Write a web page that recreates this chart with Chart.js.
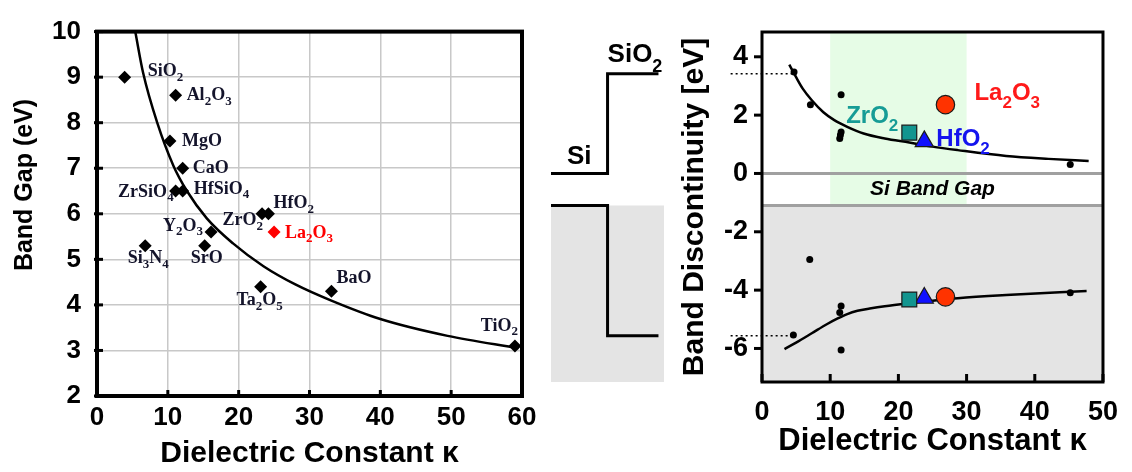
<!DOCTYPE html>
<html>
<head>
<meta charset="utf-8">
<script src="https://cdn.jsdelivr.net/npm/chart.js@4.4.1/dist/chart.umd.min.js"></script>
<style>
  html, body { margin: 0; padding: 0; background: #fff; }
  #wrap { position: relative; width: 1132px; height: 472px; overflow: hidden; }
  canvas { position: absolute; }
  #left { left: 0; top: 0; }
  #middle { left: 551px; top: 32px; }
  #right { left: 676px; top: 0; }
</style>
</head>
<body>
<div id="wrap">
  <canvas id="left" width="545" height="472"></canvas>
  <canvas id="middle" width="125" height="350"></canvas>
  <canvas id="right" width="456" height="472"></canvas>
</div>
<script>
const SANS = "'Liberation Sans', Arial, Helvetica, sans-serif";
const SERIF = "'Liberation Serif', 'Times New Roman', serif";

// left panel: band gap vs dielectric constant
const materials = ['SiO2', 'Al2O3', 'MgO', 'CaO', 'ZrSiO4', 'HfSiO4', 'ZrO2', 'HfO2', 'La2O3', 'Y2O3', 'Si3N4', 'SrO', 'Ta2O5', 'BaO', 'TiO2'];
const kappa = [3.9, 11.1, 10.3, 12.1, 11.1, 12.1, 23.3, 24.2, 25.0, 16.1, 6.8, 15.2, 23.1, 33.1, 59.0];
const bandGap = [9.0, 8.6, 7.6, 7.0, 6.5, 6.5, 6.0, 6.0, 5.6, 5.6, 5.3, 5.3, 4.4, 4.3, 3.1];
const fitKappa = [5.4, 6.5, 8.5, 10.8, 12.7, 15.5, 19.2, 23.5, 28, 33, 40, 49.5, 59.5];
const fitGap = [10, 9.1, 8.0, 7.05, 6.5, 5.9, 5.35, 4.85, 4.45, 4.1, 3.69, 3.32, 3.05];
const leftTicksX = [0, 10, 20, 30, 40, 50, 60];
const leftTicksY = [2, 3, 4, 5, 6, 7, 8, 9, 10];

// right panel: band discontinuity to Si
const cbKappa = [4.7, 7.1, 11.6, 11.6, 11.5, 11.4, 45.2];
const cbOffset = [3.48, 2.36, 2.7, 1.42, 1.32, 1.2, 0.31];
const vbKappa = [4.6, 7.0, 11.6, 11.4, 11.6, 45.2];
const vbOffset = [-5.54, -2.95, -4.54, -4.77, -6.05, -4.09];
const cbFitKappa = [4.0, 5, 6, 7.3, 9, 10.6, 12.5, 14.9, 18, 21.6, 25, 28.7, 35.8, 42, 47.9];
const cbFitOffset = [3.73, 3.3, 2.9, 2.51, 2.1, 1.83, 1.6, 1.37, 1.2, 1.06, 0.92, 0.8, 0.6, 0.5, 0.43];
const vbFitKappa = [3.3, 5, 7.3, 9.5, 11.1, 12.5, 14, 15.8, 18, 21.6, 28.7, 35.8, 47.6];
const vbFitOffset = [-6.02, -5.8, -5.48, -5.17, -4.97, -4.82, -4.71, -4.63, -4.55, -4.45, -4.28, -4.17, -4.03];
const highK = ['ZrO2', 'HfO2', 'La2O3'];
const highKKappa = [21.6, 23.8, 26.9];
const highKCb = [1.4, 1.1, 2.36];
const highKVb = [-4.32, -4.27, -4.23];
const siGap = [0, -1.1];
const sio2Levels = [3.42, -5.56];
const highlightKappa = [10, 30];
const rightTicksX = [0, 10, 20, 30, 40, 50];
const rightTicksY = [-6, -4, -2, 0, 2, 4];

// schematic: Si from 0 to 1, SiO2 from 1 to 1.9, shading to 2
const bandRegions = [0, 1, 1.9, 2];

// label placement (dx, dy, align) for the left panel
const leftLabelPos = [
  [23, -6, 'left'], [11, 0, 'left'], [12, 0, 'left'], [10, 0, 'left'],
  [-2, 1, 'right'], [11, -2, 'left'], [1, 7, 'right'], [5, -10, 'left'],
  [11, 1, 'left'], [-8, -6, 'right'], [3, 13, 'center'], [2, 13, 'center'],
  [-1, 14, 'center'], [5, -13, 'left'], [3, -20, 'right']
];
const highKColors = ['#12958f', '#1010ff', '#ff3300'];
const highKTextColors = ['#169c96', '#1414ee', '#ff1a1a'];
const highKStyles = ['rect', 'triangle', 'circle'];
const highKRadius = [10.5, 10.5, 9.2];
const highKLabelPos = [[-11, -16, 'right'], [12, -2, 'left'], [29, -11, 'left']];

// draws a chemical formula with digits as subscripts
function drawFormula(ctx, text, x, y, align, size, subSize, shift, family, color) {
  const parts = text.match(/\d+|\D+/g);
  const fontOf = p => 'bold ' + (/\d/.test(p) ? subSize : size) + 'px ' + family;
  let w = 0;
  parts.forEach(p => { ctx.font = fontOf(p); w += ctx.measureText(p).width; });
  let cx = align === 'right' ? x - w : align === 'center' ? x - w / 2 : x;
  ctx.textAlign = 'left';
  ctx.textBaseline = 'middle';
  ctx.fillStyle = color;
  parts.forEach(p => {
    ctx.font = fontOf(p);
    ctx.fillText(p, cx, y + (/\d/.test(p) ? shift : 0));
    cx += ctx.measureText(p).width;
  });
}

const leftTickFont = { family: SANS, size: 26, weight: 'bold' };
const rightTickFont = { family: SANS, size: 27, weight: 'bold' };
const titleFont = { family: SANS, size: 30, weight: 'bold' };
const noPlugins = { legend: { display: false }, tooltip: { enabled: false } };

// ---------- left chart ----------
const leftExtras = {
  id: 'leftExtras',
  afterDatasetsDraw(chart) {
    const { ctx, chartArea: a, scales: { x, y } } = chart;
    ctx.save();
    ctx.strokeStyle = '#000';
    ctx.lineWidth = 3;
    leftTicksY.forEach(v => {
      const py = y.getPixelForValue(v);
      ctx.beginPath(); ctx.moveTo(a.left - 3, py); ctx.lineTo(a.left + 6, py); ctx.stroke();
    });
    leftTicksX.forEach(v => {
      const px = x.getPixelForValue(v);
      ctx.beginPath(); ctx.moveTo(px, a.bottom); ctx.lineTo(px, a.bottom - 6); ctx.stroke();
    });
    ctx.lineWidth = 4;
    ctx.strokeRect(a.left, a.top, a.right - a.left, a.bottom - a.top);

    materials.forEach((m, i) => {
      const [dx, dy, align] = leftLabelPos[i];
      drawFormula(ctx, m, x.getPixelForValue(kappa[i]) + dx, y.getPixelForValue(bandGap[i]) + dy,
        align, 18, 13, 6, SERIF, m === 'La2O3' ? '#ff0000' : '#14142b');
    });

    ctx.translate(25, 185);
    ctx.rotate(-Math.PI / 2);
    ctx.font = 'bold 25px ' + SANS;
    ctx.fillStyle = '#000';
    ctx.textAlign = 'center';
    ctx.textBaseline = 'middle';
    ctx.fillText('Band Gap (eV)', 0, 0);
    ctx.restore();
  }
};

new Chart(document.getElementById('left'), {
  type: 'scatter',
  data: {
    datasets: [
      {
        data: materials.map((m, i) => ({ x: kappa[i], y: bandGap[i] })),
        pointStyle: 'rectRot',
        pointRadius: 6.5,
        backgroundColor: materials.map(m => m === 'La2O3' ? '#ff0000' : '#000'),
        borderWidth: 0
      },
      {
        type: 'line',
        data: fitKappa.map((k, i) => ({ x: k, y: fitGap[i] })),
        borderColor: '#000',
        borderWidth: 2.5,
        pointRadius: 0,
        fill: false,
        cubicInterpolationMode: 'monotone'
      }
    ]
  },
  options: {
    responsive: false,
    animation: false,
    layout: { padding: { top: 23, right: 23, left: 0, bottom: 0 } },
    plugins: noPlugins,
    scales: {
      x: {
        type: 'linear', min: 0, max: 60,
        afterFit: s => { s.height = 76; },
        afterBuildTicks: s => { s.ticks = leftTicksX.map(v => ({ value: v })); },
        grid: { color: '#c8c8c8', lineWidth: 1.5, drawTicks: false },
        border: { display: false },
        ticks: { padding: 6, color: '#000', font: leftTickFont, maxRotation: 0 },
        title: { display: true, text: 'Dielectric Constant κ', color: '#000', font: titleFont, padding: { top: 0, bottom: 0 } }
      },
      y: {
        type: 'linear', min: 2, max: 10,
        afterFit: s => { s.width = 97; },
        afterBuildTicks: s => { s.ticks = leftTicksY.map(v => ({ value: v })); },
        grid: { color: '#c8c8c8', lineWidth: 1.5, drawTicks: false },
        border: { display: false },
        ticks: { padding: 16, color: '#000', font: leftTickFont }
      }
    }
  },
  plugins: [leftExtras]
});

// ---------- middle schematic ----------
const middleExtras = {
  id: 'middleExtras',
  afterDatasetsDraw(chart) {
    const { ctx, scales: { x, y } } = chart;
    ctx.save();
    ctx.font = 'bold 26px ' + SANS;
    ctx.fillStyle = '#000';
    ctx.textAlign = 'center';
    ctx.textBaseline = 'middle';
    ctx.fillText('Si', x.getPixelForValue((bandRegions[0] + bandRegions[1]) / 2), y.getPixelForValue(siGap[0]) - 17);
    drawFormula(ctx, 'SiO2', x.getPixelForValue(bandRegions[1]), y.getPixelForValue(sio2Levels[0]) - 19,
      'left', 26, 18, 12, SANS, '#000');
    ctx.restore();
  }
};

new Chart(document.getElementById('middle'), {
  type: 'scatter',
  data: {
    datasets: [
      {
        type: 'line',
        data: [
          { x: bandRegions[0], y: siGap[0] }, { x: bandRegions[1], y: siGap[0] },
          { x: bandRegions[1], y: sio2Levels[0] }, { x: bandRegions[2], y: sio2Levels[0] }
        ],
        borderColor: '#000', borderWidth: 3, pointRadius: 0, fill: false, tension: 0,
        borderJoinStyle: 'miter'
      },
      {
        type: 'line',
        data: [
          { x: bandRegions[0], y: siGap[1] }, { x: bandRegions[1], y: siGap[1] },
          { x: bandRegions[1], y: sio2Levels[1] }, { x: bandRegions[2], y: sio2Levels[1] }
        ],
        borderColor: '#000', borderWidth: 3, pointRadius: 0, fill: false, tension: 0,
        borderJoinStyle: 'miter'
      },
      {
        type: 'line',
        data: [{ x: bandRegions[0], y: siGap[1] }, { x: bandRegions[3], y: siGap[1] }],
        borderWidth: 0, pointRadius: 0, fill: 'start', backgroundColor: '#e4e4e4'
      }
    ]
  },
  options: {
    responsive: false,
    animation: false,
    layout: { padding: 0 },
    plugins: noPlugins,
    scales: {
      x: { type: 'linear', display: false, min: 0, max: 2.21 },
      y: { type: 'linear', display: false, min: -7.15, max: 4.85 }
    }
  },
  plugins: [middleExtras]
});

// ---------- right chart ----------
const rightExtras = {
  id: 'rightExtras',
  beforeDatasetsDraw(chart) {
    const { ctx, chartArea: a, scales: { x, y } } = chart;
    const yGap = y.getPixelForValue(siGap[1]);
    const y0 = y.getPixelForValue(siGap[0]);
    const gx0 = x.getPixelForValue(highlightKappa[0]);
    const gx1 = x.getPixelForValue(highlightKappa[1]);
    ctx.save();
    ctx.fillStyle = '#e4e4e4';
    ctx.fillRect(a.left, yGap, a.right - a.left, a.bottom - yGap);
    ctx.fillStyle = '#e6fce6';
    ctx.fillRect(gx0, a.top, gx1 - gx0, yGap - a.top);
    ctx.strokeStyle = '#a0a0a0';
    ctx.lineWidth = 3;
    [y0, yGap].forEach(py => {
      ctx.beginPath(); ctx.moveTo(a.left, py); ctx.lineTo(a.right, py); ctx.stroke();
    });
    ctx.font = 'italic bold 21px ' + SANS;
    ctx.fillStyle = '#000';
    ctx.textAlign = 'center';
    ctx.textBaseline = 'middle';
    ctx.fillText('Si Band Gap', (a.left + a.right) / 2, y.getPixelForValue((siGap[0] + siGap[1]) / 2));
    ctx.restore();
  },
  afterDatasetsDraw(chart) {
    const { ctx, chartArea: a, scales: { x, y } } = chart;
    ctx.save();
    ctx.strokeStyle = '#000';
    ctx.lineWidth = 3;
    rightTicksY.forEach(v => {
      const py = y.getPixelForValue(v);
      ctx.beginPath(); ctx.moveTo(a.left - 8, py); ctx.lineTo(a.left, py); ctx.stroke();
    });
    rightTicksX.forEach(v => {
      const px = x.getPixelForValue(v);
      ctx.beginPath(); ctx.moveTo(px, a.bottom); ctx.lineTo(px, a.bottom - 8); ctx.stroke();
    });
    ctx.strokeRect(a.left, a.top, a.right - a.left, a.bottom - a.top);
    highK.forEach((m, i) => {
      const [dx, dy, align] = highKLabelPos[i];
      drawFormula(ctx, m, x.getPixelForValue(highKKappa[i]) + dx, y.getPixelForValue(highKCb[i]) + dy,
        align, 24, 17, 10, SANS, highKTextColors[i]);
    });
    ctx.restore();
  }
};

const dotSet = (ks, vs) => ({
  data: ks.map((k, i) => ({ x: k, y: vs[i] })),
  pointRadius: 3.5, backgroundColor: '#000', borderWidth: 0
});
const fitSet = (ks, vs) => ({
  type: 'line',
  data: ks.map((k, i) => ({ x: k, y: vs[i] })),
  borderColor: '#000', borderWidth: 2.5, pointRadius: 0, fill: false,
  cubicInterpolationMode: 'monotone'
});
// dotted SiO2 levels run out from the schematic to the SiO2 points
const dashSet = level => ({
  type: 'line',
  data: [{ x: -4.6, y: level }, { x: cbKappa[0], y: level }],
  borderColor: '#000', borderWidth: 1.5, borderDash: [2, 3], pointRadius: 0, fill: false,
  clip: false
});

new Chart(document.getElementById('right'), {
  type: 'scatter',
  data: {
    datasets: [
      ...highK.map((m, i) => ({
        data: [{ x: highKKappa[i], y: highKCb[i] }, { x: highKKappa[i], y: highKVb[i] }],
        pointStyle: highKStyles[i],
        pointRadius: highKRadius[i],
        backgroundColor: highKColors[i],
        borderColor: '#1a1a1a',
        borderWidth: 1.2
      })),
      dotSet(cbKappa, cbOffset),
      dotSet(vbKappa, vbOffset),
      fitSet(cbFitKappa, cbFitOffset),
      fitSet(vbFitKappa, vbFitOffset),
      dashSet(sio2Levels[0]),
      dashSet(sio2Levels[1])
    ]
  },
  options: {
    responsive: false,
    animation: false,
    layout: { padding: { top: 32, right: 18, left: 0, bottom: 0 } },
    plugins: noPlugins,
    scales: {
      x: {
        type: 'linear', min: 0, max: 50,
        afterFit: s => { s.height = 90; },
        afterBuildTicks: s => { s.ticks = rightTicksX.map(v => ({ value: v })); },
        grid: { display: false, drawTicks: false },
        border: { display: false },
        ticks: { padding: 14, color: '#000', font: rightTickFont, maxRotation: 0 },
        title: { display: true, text: 'Dielectric Constant κ', color: '#000', font: { family: SANS, size: 31, weight: 'bold' }, padding: { top: 0, bottom: 12 } }
      },
      y: {
        type: 'linear', min: -7.15, max: 4.85,
        afterFit: s => { s.width = 86; },
        afterBuildTicks: s => { s.ticks = rightTicksY.map(v => ({ value: v })); },
        grid: { display: false, drawTicks: false },
        border: { display: false },
        ticks: { padding: 14, color: '#000', font: rightTickFont },
        title: { display: true, text: 'Band Discontinuity [eV]', color: '#000', font: titleFont, padding: { top: 1, bottom: 0 } }
      }
    }
  },
  plugins: [rightExtras]
});
</script>
</body>
</html>
